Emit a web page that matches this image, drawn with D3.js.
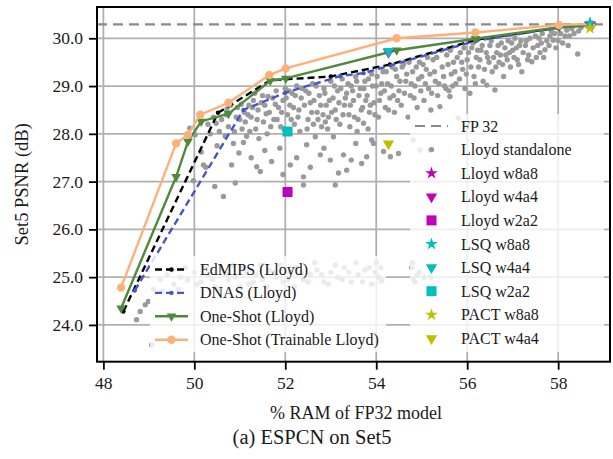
<!DOCTYPE html>
<html><head><meta charset="utf-8">
<script src="https://cdn.jsdelivr.net/npm/d3@7"></script>
<style>
html,body{margin:0;padding:0;background:#fff;}
svg text{font-family:"Liberation Serif","Times New Roman",serif;fill:#1a1a1a;}
</style></head>
<body><svg id="c" width="613" height="459" font-family="Liberation Serif, serif"></svg>
<script>
// ---------- data ----------
const xTicks = [48, 50, 52, 54, 56, 58];
const yTicks = [24, 25, 26, 27, 28, 29, 30];
const fp32 = 30.29;

const edmipsX = [48.44, 50.52, 51.67, 53.0, 54.3, 56.2, 58.0, 58.72];
const edmipsY = [24.28, 28.44, 29.12, 29.2, 29.45, 29.97, 30.22, 30.30];

const dnasX = [48.69, 51.08, 52.0, 53.21, 53.72, 56.2, 58.0, 58.72];
const dnasY = [24.72, 28.50, 28.86, 29.21, 29.27, 29.95, 30.22, 30.30];

const oneShotX = [48.39, 49.60, 49.86, 50.15, 50.75, 51.67, 52.01, 54.45, 56.18, 58.02, 58.74];
const oneShotY = [24.35, 27.10, 27.84, 28.26, 28.42, 29.11, 29.16, 29.75, 29.99, 30.23, 30.26];

const trainX = [48.39, 49.60, 49.86, 50.13, 50.75, 51.65, 52.01, 54.45, 56.18, 58.02, 58.72];
const trainY = [24.78, 27.80, 27.98, 28.40, 28.65, 29.23, 29.37, 30.00, 30.12, 30.28, 30.30];

const specialLabels = ["Lloyd w8a8","Lloyd w4a4","Lloyd w2a2","LSQ w8a8","LSQ w4a4","LSQ w2a2","PACT w8a8","PACT w4a4"];
const specialX = [58.70, 54.27, 52.05, 58.70, 54.27, 52.05, 58.70, 54.27];
const specialY = [30.30, 29.71, 26.78, 30.32, 29.73, 28.05, 30.21, 27.79];

// Lloyd standalone cloud [x, y]
const standalone = [
[49.9,28.12],[50.02,27.98],[50.15,27.62],[49.98,27.02],[50.3,28.2],[50.42,28.35],[50.5,27.75],[50.64,26.69],[50.55,28.05],[50.25,27.3],
[50.7,28.4],[50.75,28.15],[50.82,27.35],[50.86,27.8],[50.9,26.97],[50.95,28.55],[51.0,28.3],[51.05,28.1],[51.1,28.45],[51.15,27.95],[51.2,28.6],[50.8,28.6],[51.12,28.25],[50.98,27.6],
[51.25,28.35],[51.3,28.7],[51.35,28.1],[51.37,27.31],[51.4,28.5],[51.45,27.21],[51.5,28.8],[51.52,28.25],[51.55,28.6],[51.6,28.0],[51.65,28.45],[51.7,27.42],[51.72,28.75],[51.75,28.3],[51.8,28.9],[51.85,28.55],[51.9,28.15],[51.95,28.7],[52.0,28.95],[52.05,28.4],[52.1,28.6],[52.11,27.35],[52.15,28.85],[52.2,28.2],[51.42,27.9],[51.88,27.7],
[52.25,29.0],[52.3,28.5],[52.35,28.75],[52.4,27.1],[52.4,26.93],[52.45,28.9],[52.47,27.77],[52.5,28.3],[52.55,28.65],[52.6,29.05],[52.66,27.94],[52.7,28.45],[52.75,28.8],[52.77,27.56],[52.8,28.15],[52.85,28.95],[52.9,28.6],[52.95,28.35],[52.99,27.45],[53.0,29.1],[53.05,28.75],[53.06,27.94],[53.1,26.93],[53.1,28.5],[53.15,28.9],[53.17,27.18],[53.2,28.2],[52.32,28.05],[52.62,28.2],[52.88,28.25],
[53.25,29.15],[53.28,27.56],[53.3,28.6],[53.35,27.24],[53.35,28.85],[53.4,28.4],[53.45,29.0],[53.5,28.7],[53.55,29.2],[53.6,28.3],[53.65,28.95],[53.68,27.38],[53.7,28.55],[53.72,28.22],[53.75,29.1],[53.79,27.52],[53.8,28.8],[53.85,28.45],[53.9,27.87],[53.9,29.25],[53.94,27.8],[53.95,28.65],[54.0,29.0],[54.05,28.35],[54.1,28.85],[54.15,29.3],[54.16,27.63],[54.2,28.55],[53.42,28.15],[53.58,28.05],[53.82,28.1],
[54.25,29.05],[54.3,28.75],[54.31,27.52],[54.35,29.4],[54.4,28.45],[54.45,29.2],[54.49,27.59],[54.5,28.9],[54.55,28.6],[54.6,29.45],[54.65,29.1],[54.7,28.35],[54.75,28.8],[54.8,29.3],[54.81,27.87],[54.85,29.0],[54.9,28.55],[54.95,29.5],[55.0,29.2],[55.05,28.7],[55.1,29.35],[55.15,28.95],[55.2,28.5],[54.96,27.66],[55.18,27.66],
[55.25,29.55],[55.3,29.1],[55.35,28.8],[55.4,28.57],[55.45,29.4],[55.5,29.0],[55.55,29.65],[55.6,28.9],[55.62,28.78],[55.65,29.25],[55.7,29.5],[55.75,29.05],[55.8,28.33],[55.85,29.7],[55.9,29.35],[55.95,28.95],[56.0,29.55],[56.06,28.85],[56.1,29.8],[56.15,29.2],[56.2,29.6],
[56.25,29.4],[56.3,29.75],[56.35,29.1],[56.43,29.02],[56.45,29.6],[56.5,29.85],[56.55,29.3],[56.61,28.92],[56.65,29.7],[56.7,29.5],[56.75,29.9],[56.8,29.2],[56.85,29.65],[56.9,29.95],[56.95,29.4],[57.0,29.75],[57.05,30.0],[57.1,29.55],[57.2,29.3],[57.15,29.85],
[57.3,29.95],[57.35,29.65],[57.42,29.51],[57.5,30.05],[57.55,29.85],[57.6,29.7],[57.65,30.1],[57.71,29.76],[57.75,29.95],[57.85,30.15],[57.89,29.96],[57.95,29.8],[58.05,30.1],[58.1,29.9],[58.19,30.17],[58.25,30.05],[58.3,30.2],[58.43,29.67],[58.45,30.15],[58.5,30.22],
[50.35,28.0],[50.48,28.22],[50.6,28.3],[50.68,27.95],[50.72,28.52],[50.88,28.05],[50.92,28.35],[51.03,28.62],[51.08,27.82],[51.18,28.4],[51.22,28.05],[51.28,28.55],[51.33,28.85],[51.38,28.3],[51.47,28.65],[51.58,28.42],[51.62,28.78],[51.68,28.15],[51.78,28.62],[51.82,28.3],[51.92,28.45],[51.97,28.1],[52.02,28.75],[52.08,28.9],[52.13,28.3],[52.18,28.55],[52.22,28.8],[52.28,28.35],[52.37,28.95],[52.42,28.6],[52.48,28.1],[52.52,28.85],[52.58,28.45],[52.63,28.7],[52.68,29.0],[52.72,28.3],[52.78,28.6],[52.83,28.4],[52.87,28.85],[52.93,28.1],[52.97,28.7],
[53.02,28.45],[53.08,29.0],[53.12,28.3],[53.18,28.65],[53.22,28.95],[53.27,28.4],[53.32,28.75],[53.38,29.05],[53.43,28.6],[53.48,28.9],[53.52,28.35],[53.57,29.1],[53.62,28.8],[53.67,28.5],[53.73,28.95],[53.77,28.7],[53.83,29.15],[53.87,28.6],[53.92,29.0],[53.97,28.4],[54.02,29.2],[54.07,28.7],[54.12,29.05],[54.18,28.9],[54.22,29.3],[54.27,28.5],[54.33,29.0],[54.38,28.8],[54.42,29.35],[54.47,28.7],[54.52,29.1],[54.57,29.4],[54.62,28.85],[54.67,29.25],[54.72,29.5],[54.77,29.05],[54.83,28.75],[54.88,29.4],[54.93,29.15],[54.98,28.9],
[55.03,29.45],[55.08,29.05],[55.13,29.6],[55.18,29.25],[55.22,28.85],[55.28,29.3],[55.33,29.6],[55.38,29.05],[55.43,29.75],[55.48,29.2],[55.53,28.95],[55.58,29.45],[55.63,29.75],[55.68,29.0],[55.73,29.3],[55.78,29.6],[55.83,29.15],[55.88,29.5],[55.93,29.8],[55.98,29.25],[56.03,29.7],[56.08,29.4],[56.13,29.9],[56.18,29.05],[56.23,29.75],[56.28,29.55],[56.33,29.85],[56.38,29.35],[56.42,29.7],[56.48,29.5],[56.53,29.95],[56.58,29.6],[56.63,29.4],[56.68,29.85],[56.73,29.65],[56.78,29.45],[56.83,29.8],[56.88,29.55],[56.93,29.7],[56.98,29.9],
[57.03,29.6],[57.08,29.8],[57.13,29.45],[57.18,29.95],[57.23,29.7],[57.28,29.85],[57.33,29.55],[57.38,30.0],[57.45,29.8],[57.52,29.6],[57.58,30.0],[57.63,29.9],[57.68,29.6],[57.8,29.85],[57.82,30.05],[57.92,30.1],[58.0,29.95],[58.15,30.05],[58.22,29.85],[58.35,30.1],
[50.2,27.35],[50.45,26.9],[51.25,27.5],[51.55,27.65],[51.95,27.15],[52.25,27.5],[52.55,27.3],[52.85,27.7],[53.45,27.45],[53.55,27.8],
[49.1,24.75],[49.25,24.95],[49.4,25.05],[49.55,24.85],[49.7,25.0],[49.85,24.94],[50.0,25.1],[50.15,24.9],[50.3,25.05],[50.45,24.8],[50.6,25.15],[50.75,24.95],[50.9,25.0],[51.05,25.2],[51.2,24.85],[51.35,25.05],[51.5,24.95],[51.65,25.15],[51.8,25.0],[51.95,24.9],[52.1,25.1],[52.25,25.2],[52.4,24.95],[52.55,25.05],[52.7,25.15],[52.85,24.9],[53.0,25.1],[53.15,25.0],[53.3,25.2],[53.45,24.9],[53.6,25.05],[53.75,25.15],[53.9,24.85],[54.05,25.0],[54.1,25.2],[53.98,25.1],[54.8,25.3],[54.82,24.95],[54.9,25.05],[55.2,25.0],
[49.3,24.7],[49.5,25.15],[49.65,24.75],[49.8,25.2],[50.05,24.85],[50.2,25.2],[50.4,24.95],[50.55,24.75],[50.7,25.05],[50.85,25.25],[51.0,24.8],[51.15,25.1],[51.3,24.9],[51.45,25.25],[51.6,24.8],[51.75,25.1],[51.9,25.25],[52.05,24.95],[52.2,24.8],[52.35,25.1],[52.5,24.9],[52.65,25.3],[52.8,25.05],[52.95,24.85],[53.1,25.25],[53.25,24.95],[53.4,25.1],[53.55,25.3],[53.7,24.9],[53.85,25.2],[54.0,25.3],[54.12,24.92],[54.85,24.9],[54.95,25.1],[55.05,25.0],[54.78,25.2],
[48.73,24.11],[48.81,24.28],[48.92,24.42],[48.99,24.49],[49.06,23.58]
];

// ---------- layout ----------
const svg = d3.select("#c");
const L = 97, R = 610, T = 7, B = 361.7;
const x = d3.scaleLinear().domain([47.86, 59.14]).range([L, R]);
const y = d3.scaleLinear().domain([23.23, 30.655]).range([B, T]);
const FONT = '"Liberation Serif", "Times New Roman", serif';

const C = {
  gray: "#9a9a9a", grid: "#b0b0b0", fp: "#8a8a8a",
  black: "#000", blue: "#4656c8", green: "#4f8a3c", orange: "#fdb07a",
  m: "#bf00bf", c: "#00bfbf", yl: "#bfbf00"
};

svg.append("defs").append("clipPath").attr("id", "pc")
  .append("rect").attr("x", L).attr("y", T).attr("width", R - L).attr("height", B - T);

const g = svg.append("g");
g.selectAll(".gx").data(xTicks).join("line")
  .attr("x1", d => x(d)).attr("x2", d => x(d)).attr("y1", T).attr("y2", B)
  .attr("stroke", C.grid).attr("stroke-width", 1.8);
g.selectAll(".gy").data(yTicks).join("line")
  .attr("y1", d => y(d)).attr("y2", d => y(d)).attr("x1", L).attr("x2", R)
  .attr("stroke", C.grid).attr("stroke-width", 1.8);

const plot = svg.append("g").attr("clip-path", "url(#pc)");

plot.append("line").attr("x1", L).attr("x2", R).attr("y1", y(fp32)).attr("y2", y(fp32))
  .attr("stroke", C.fp).attr("stroke-width", 2.2).attr("stroke-dasharray", "10,6");

plot.append("g").selectAll("circle").data(standalone).join("circle")
  .attr("cx", d => x(d[0])).attr("cy", d => y(d[1])).attr("r", 2.7).attr("fill", C.gray);

const line = d3.line().x(d => x(d[0])).y(d => y(d[1]));
const zip = (a, b) => a.map((v, i) => [v, b[i]]);

const series = [
  {name: "EdMIPS (Lloyd)", xs: edmipsX, ys: edmipsY, color: C.black, dash: "7,4", marker: "dot"},
  {name: "DNAS (Lloyd)", xs: dnasX, ys: dnasY, color: C.blue, dash: "7,4", marker: "dot"},
  {name: "One-Shot (Lloyd)", xs: oneShotX, ys: oneShotY, color: C.green, dash: null, marker: "tri"},
  {name: "One-Shot (Trainable Lloyd)", xs: trainX, ys: trainY, color: C.orange, dash: null, marker: "circ"}
];

function drawMarker(sel, type, color, cx, cy, big) {
  if (type === "dot") {
    sel.append("circle").attr("cx", cx).attr("cy", cy).attr("r", 2.2).attr("fill", color);
  } else if (type === "circ") {
    sel.append("circle").attr("cx", cx).attr("cy", cy).attr("r", 4.2).attr("fill", color);
  } else if (type === "tri") {
    sel.append("path").attr("d", d3.symbol().type(d3.symbolTriangle).size(big ? 55 : 40)())
      .attr("transform", `translate(${cx},${cy}) rotate(180)`).attr("fill", color);
  } else if (type === "star") {
    sel.append("path").attr("d", d3.symbol().type(d3.symbolStar).size(big ? 50 : 42)())
      .attr("transform", `translate(${cx},${cy})`).attr("fill", color);
  } else if (type === "square") {
    sel.append("path").attr("d", d3.symbol().type(d3.symbolSquare).size(big ? 100 : 80)())
      .attr("transform", `translate(${cx},${cy})`).attr("fill", color);
  }
}

series.forEach(s => {
  const pts = zip(s.xs, s.ys);
  const gg = plot.append("g");
  gg.append("path").attr("d", line(pts)).attr("fill", "none").attr("stroke", s.color)
    .attr("stroke-width", 2.4).attr("stroke-dasharray", s.dash);
  pts.forEach(p => drawMarker(gg, s.marker, s.color, x(p[0]), y(p[1]), false));
});

const specialColors = [C.m, C.m, C.m, C.c, C.c, C.c, C.yl, C.yl];
const specialTypes = ["star", "tri", "square", "star", "tri", "square", "star", "tri"];
const spG = plot.append("g");
specialLabels.forEach((l, i) => {
  drawMarker(spG, specialTypes[i], specialColors[i], x(specialX[i]), y(specialY[i]), true);
});

svg.append("rect").attr("x", L).attr("y", T).attr("width", R - L).attr("height", B - T)
  .attr("fill", "none").attr("stroke", "#000").attr("stroke-width", 2);

const xAxis = svg.append("g").attr("transform", `translate(0,${B})`)
  .call(d3.axisBottom(x).tickValues(xTicks).tickSize(8).tickPadding(7).tickFormat(d3.format("d")));
const yAxis = svg.append("g").attr("transform", `translate(${L},0)`)
  .call(d3.axisLeft(y).tickValues(yTicks).tickSize(8).tickPadding(6).tickFormat(d3.format(".1f")));
[xAxis, yAxis].forEach(a => {
  a.attr("font-family", FONT);
  a.select(".domain").remove();
  a.selectAll(".tick line").attr("stroke", "#000").attr("stroke-width", 1.8);
  a.selectAll(".tick text").attr("font-size", 17.5).attr("fill", "#1a1a1a");
});

svg.append("text").attr("x", 356).attr("y", 419).attr("text-anchor", "middle")
  .attr("font-size", 18).text("% RAM of FP32 model");
svg.append("text").attr("x", 312).attr("y", 444).attr("text-anchor", "middle")
  .attr("font-size", 20.5).text("(a) ESPCN on Set5");
svg.append("text").attr("transform", `translate(28,${(T + B) / 2}) rotate(-90)`)
  .attr("text-anchor", "middle").attr("font-size", 18.5).text("Set5 PSNR (dB)");

// ---------- legends ----------
function legendBox(x0, y0, w, h) {
  svg.append("rect").attr("x", x0).attr("y", y0).attr("width", w).attr("height", h)
    .attr("rx", 3).attr("fill", "#fff").attr("fill-opacity", 0.8);
}
legendBox(150, 256, 236, 96);
const lg1 = svg.append("g");
series.forEach((s, i) => {
  const cy = 269.5 + i * 23.4;
  lg1.append("line").attr("x1", 155).attr("x2", 188).attr("y1", cy).attr("y2", cy)
    .attr("stroke", s.color).attr("stroke-width", 2.4).attr("stroke-dasharray", s.dash);
  drawMarker(lg1, s.marker, s.color, 171.5, cy, false);
  lg1.append("text").attr("x", 200).attr("y", cy + 5.5).attr("font-size", 16).text(s.name);
});
legendBox(410, 114, 194, 238);
const lg2 = svg.append("g");
const l2y = i => 126 + i * 23.6;
lg2.append("line").attr("x1", 415).attr("x2", 448).attr("y1", l2y(0)).attr("y2", l2y(0))
  .attr("stroke", C.fp).attr("stroke-width", 2.2).attr("stroke-dasharray", "10,6");
lg2.append("text").attr("x", 461).attr("y", l2y(0) + 5.5).attr("font-size", 16).text("FP 32");
lg2.append("circle").attr("cx", 431.5).attr("cy", l2y(1)).attr("r", 2.7).attr("fill", C.gray);
lg2.append("text").attr("x", 461).attr("y", l2y(1) + 5.5).attr("font-size", 16).text("Lloyd standalone");
specialLabels.forEach((l, i) => {
  const cy = l2y(i + 2);
  drawMarker(lg2, specialTypes[i], specialColors[i], 431.5, cy, true);
  lg2.append("text").attr("x", 461).attr("y", cy + 5.5).attr("font-size", 16).text(l);
});
</script></body></html>
